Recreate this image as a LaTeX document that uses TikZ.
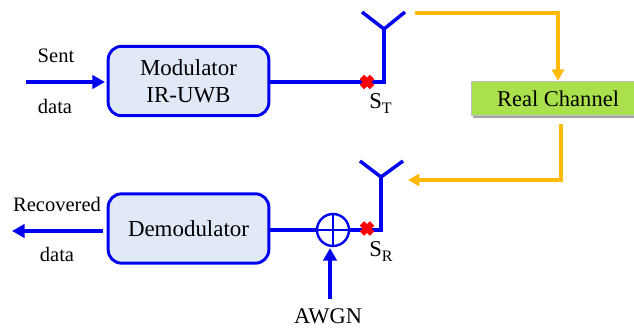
\documentclass[tikz,border=0pt]{standalone}
\usepackage{fontspec}
\setmainfont{Liberation Serif}
\usetikzlibrary{arrows.meta,shadows,calc}
\definecolor{blueline}{RGB}{0,0,240}
\definecolor{boxfill}{RGB}{224,233,245}
\definecolor{orangeline}{RGB}{255,186,10}
\definecolor{greenfill}{RGB}{170,224,76}
\newcommand{\lowsub}[1]{\raisebox{-4.2pt}{\fontsize{12}{12}\selectfont #1}}
\tikzset{
  x=0.75pt,y=-0.75pt,
  blockbox/.style={draw=blueline,line width=2.2pt,fill=boxfill,rounded corners=10pt,minimum width=120.5pt,minimum height=52pt,inner sep=0pt,align=center,font=\fontsize{17.2}{20.8}\selectfont},
  channelbox/.style={draw=black!25,line width=0.6pt,fill=greenfill,minimum width=130.5pt,minimum height=26pt,inner sep=0pt,font=\fontsize{16.9}{20}\selectfont,drop shadow={shadow xshift=1.2pt,shadow yshift=-1.5pt,opacity=.35,fill=black}},
  lbl/.style={inner sep=0pt,font=\fontsize{15.4}{18}\selectfont},
  probelbl/.style={inner sep=0pt,anchor=base west,font=\fontsize{17}{20}\selectfont},
  sig/.style={draw=blueline,line width=3pt},
  sigthin/.style={draw=blueline,line width=2.6pt},
  sigarrow/.style={sig,-{Triangle[length=9.5pt,width=10pt]}},
  feed/.style={draw=orangeline,line width=2.6pt},
  feedarrow/.style={feed,-{Triangle[length=8.5pt,width=9pt]}},
  sumring/.style={circle,draw=blueline,line width=1.8pt,fill=white,minimum size=24pt,inner sep=0pt},
  crossmark/.pic={\draw[red,line width=4.6pt] (-3.8pt,-3.8pt) -- (3.8pt,3.8pt) (-3.8pt,3.8pt) -- (3.8pt,-3.8pt);},
}
\begin{document}
\begin{tikzpicture}
\useasboundingbox (0,0) rectangle (634,329);
\clip (0,0) rectangle (634,329);
\node[blockbox] (mod) at (188.5,81) {\raisebox{-1pt}{Modulator}\\\raisebox{-0.5pt}{IR-UWB}};
\node[blockbox] (demod) at (188.5,228.5) {Demodulator};
\node[channelbox] (chan) at (558,98.5) {Real Channel};
\coordinate (sentin) at (26,82);
\coordinate (sentout) at (105,82);
\coordinate (recin) at (103,231);
\coordinate (recout) at (12,231);
\node[lbl] (sent) at (56,56) {Sent};
\node[lbl] (d1) at (55,106) {data};
\node[lbl] (rec) at (57,204) {Recovered};
\node[lbl] (d2) at (57,254) {data};
\draw[sigarrow] (sentin) -- (sentout);
\draw[sigarrow] (recin) -- (recout);
% top antenna
\coordinate (tjoin) at (384,82);
\coordinate (tfoot) at (384,29);
\coordinate (tl) at (362,12);
\coordinate (tr) at (405,12);
\draw[sig,line join=miter] (mod.east |- tjoin) -- (tjoin) -- (tfoot);
\draw[sigthin] (tl) -- (tfoot) -- (tr);
\node[probelbl] (st) at (369,108) {S\lowsub{T}};
% bottom antenna
\node[sumring] (sum) at (333,230) {};
\draw[blueline,line width=1.6pt] (sum.north) -- (sum.south) (sum.west) -- (sum.east);
\coordinate (bjoin) at (381,230);
\coordinate (bfoot) at (381,177);
\coordinate (bl) at (360,161);
\coordinate (br) at (403,161);
\draw[sig] (demod.east |- sum.west) -- (sum.west);
\draw[sig,line join=miter] (sum.east) -- (bjoin) -- (bfoot);
\draw[sigthin] (bl) -- (bfoot) -- (br);
\node[probelbl] (sr) at (369,256) {S\lowsub{R}};
\node[lbl,font=\fontsize{16.8}{20}\selectfont] (awgn) at (328,316) {AWGN};
\coordinate (a0) at (330,299);
\coordinate (a1) at (330,248);
\draw[sigarrow] (a0) -- (a1);
% crosses
\pic at (367,82) {crossmark};
\pic at (367,228.5) {crossmark};
% orange
\coordinate (f0) at (415,13);
\coordinate (f1) at (558,13);
\draw[feedarrow] (f0) -- (f1) -- (f1 |- chan.north);
\coordinate (g0) at (561,124);
\coordinate (g1) at (561,180);
\coordinate (g2) at (408,180);
\draw[feedarrow] (g0) -- (g1) -- (g2);
\end{tikzpicture}
\end{document}
